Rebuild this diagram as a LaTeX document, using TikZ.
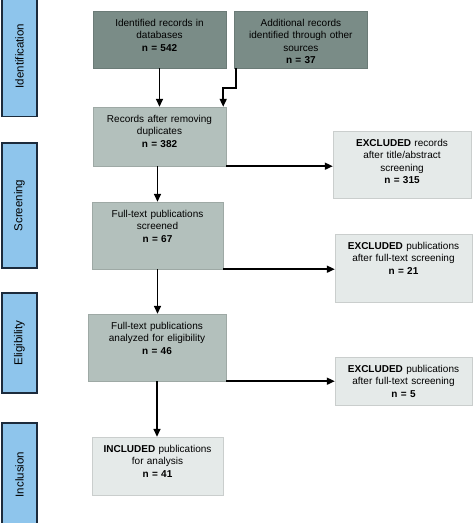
\documentclass[tikz,border=0pt]{standalone}
\usepackage{fontspec}
\setmainfont{Liberation Sans}
\usetikzlibrary{arrows.meta,positioning,calc}
\definecolor{PRDark}{HTML}{7A8C87}
\definecolor{PRMid}{HTML}{B3C0BC}
\definecolor{PRLight}{HTML}{E5EAE9}
\definecolor{PRBlue}{HTML}{8EC5EC}
\definecolor{PRBorder}{HTML}{1C2B3C}

\begin{document}
\begin{tikzpicture}[
      x=1pt,y=-1pt,
      node distance=8pt,
      phase/.style={draw=PRBorder,line width=1.2pt,fill=PRBlue,rotate=90,
        minimum height=35pt,inner sep=0pt,font=\fontsize{11.5}{14}\selectfont},
      box/.style={draw=#1!88!black,fill=#1,line width=.4pt,inner xsep=3pt,
        inner ysep=3pt,text height=12pt,align=center,
        font=\fontsize{10}{12.5}\selectfont},
      arrow/.style={-{Triangle[length=8pt,width=7pt]},line width=1.6pt,black}
    ]
      \useasboundingbox (0,0) rectangle (473,523);
      % phases
      \node[phase,minimum width=121pt] (pid) at (19.5,56) {Identification};
      \node[phase,minimum width=125pt] (pscr) at (19.5,205.5) {Screening};
      \node[phase,minimum width=100pt] (pelig) at (19.5,343) {Eligibility};
      \node[phase,minimum width=103pt] (pinc) at (19.5,474.5) {Inclusion};
      % records
      \node[box=PRDark,text width=127pt,text depth=39pt] (ident) at (159.5,39.5)
        {Identified records in\\databases\\\textbf{n = 542}};
      \node[box=PRDark,text width=127pt,text depth=39pt,right=of ident] (other)
        {Additional records\\identified through other\\sources\\\textbf{n = 37}};
      \node[box=PRMid,text width=127pt,text depth=41pt] (dup) at (159.5,136.5)
        {Records after removing\\duplicates\\\textbf{n = 382}};
      \node[box=PRLight,text width=132pt,text depth=49pt] (excla) at (402,164.5)
        {\textbf{EXCLUDED} records\\after title/abstract\\screening\\\textbf{n = 315}};
      \node[box=PRMid,text width=125pt,text depth=49pt] (screen) at (157.5,235.5)
        {Full-text publications\\screened\\\textbf{n = 67}};
      \node[box=PRLight,text width=131pt,text depth=50pt] (exclb) at (403.5,268)
        {\textbf{EXCLUDED} publications\\after full-text screening\\\textbf{n = 21}};
      \node[box=PRMid,text width=132pt,text depth=49pt] (elig) at (157,347.5)
        {Full-text publications\\analyzed for eligibility\\\textbf{n = 46}};
      \node[box=PRLight,text width=131pt,text depth=30pt] (exclc) at (403.5,381)
        {\textbf{EXCLUDED} publications\\after full-text screening\\\textbf{n = 5}};
      \node[box=PRLight,text width=125pt,text depth=40pt] (incl) at (157.5,466)
        {\textbf{INCLUDED} publications\\for analysis\\\textbf{n = 41}};
      % connectors
      \coordinate (otherout) at ($(other.south west)+(1.5,0)$);
      \coordinate (dupin) at ($(dup.north east)+(-3,0)$);
      \draw[arrow] (ident.south) -- (dup.north);
      \draw[arrow] (otherout) -- ++(0,20) -| (dupin);
      \draw[arrow] (dup.south east) -- (dup.south east -| excla.west);
      \draw[arrow] (dup.south -| screen.north) -- (screen.north);
      \draw[arrow] (screen.south east) -- (screen.south east -| exclb.west);
      \draw[arrow] (screen.south) -- (screen.south |- elig.north);
      \draw[arrow] (elig.south east) -- (elig.south east -| exclc.west);
      \draw[arrow] (elig.south) -- (elig.south |- incl.north);
    \end{tikzpicture}
\end{document}
